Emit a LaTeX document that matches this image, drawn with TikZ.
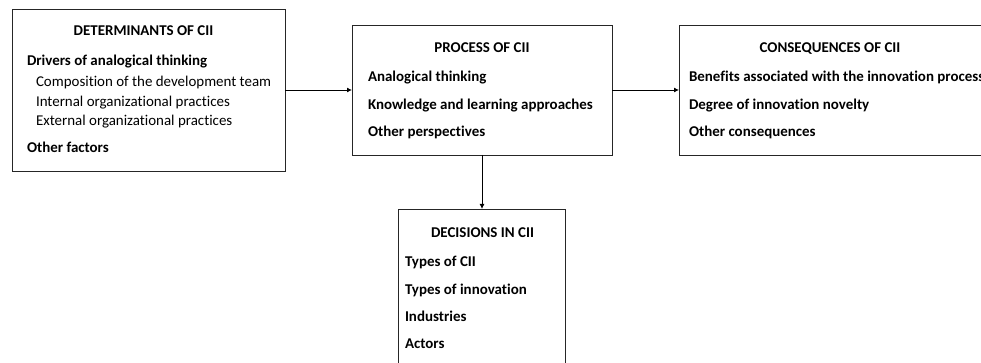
\documentclass[tikz,border=0pt]{standalone}
\usepackage{fontspec}
\setmainfont{Carlito}[Ligatures=CommonOff]
\usetikzlibrary{arrows.meta}
\begin{document}
\begin{tikzpicture}[x=1pt,y=-1pt,
  box/.style={draw=black!85, line width=0.9pt, rectangle, inner sep=0pt, outer sep=0pt},
  txt/.style={inner sep=0pt, outer sep=0pt, anchor=base west, font=\fontsize{14.95}{17}\selectfont\bfseries},
  sub/.style={inner sep=0pt, outer sep=0pt, anchor=base west, font=\fontsize{14.95}{17}\selectfont},
  ttl/.style={inner sep=0pt, outer sep=0pt, anchor=base, font=\fontsize{14.95}{17}\selectfont\bfseries},
  arr/.style={draw=black, line width=0.9pt, -{Latex[length=5pt,width=5pt]}}]
\useasboundingbox (0,0) rectangle (981,363);
\clip (0,0) rectangle (981,363);
% boxes
\node[box, minimum width=273pt, minimum height=162pt] (det) at (148.5,90) {};
\node[box, minimum width=260pt, minimum height=130pt] (proc) at (482,90) {};
\node[box, minimum width=306pt, minimum height=130pt] (cons) at (832,90) {};
\node[box, minimum width=167pt, minimum height=180pt] (dec) at (482,299) {};
% determinants
\node[ttl] (t1) at (143.5,36) {DETERMINANTS OF CII};
\node[txt] (d1) at (27,66) {Drivers of analogical thinking};
\node[sub] (d2) at (36,87) {Composition of the development team};
\node[sub] (d3) at (36,107) {Internal organizational practices};
\node[sub] (d4) at (36,126) {External organizational practices};
\node[txt] (d5) at (27,153) {Other factors};
% process
\node[ttl] (t2) at (482,53) {PROCESS OF CII};
\node[txt] (p1) at (368,82) {Analogical thinking};
\node[txt] (p2) at (368,110) {Knowledge and learning approaches};
\node[txt] (p3) at (368,137) {Other perspectives};
% consequences
\node[ttl] (t3) at (830,53) {CONSEQUENCES OF CII};
\node[txt] (c1) at (689,82) {Benefits associated with the innovation process};
\node[txt] (c2) at (689,110) {Degree of innovation novelty};
\node[txt] (c3) at (689,137) {Other consequences};
% decisions
\node[ttl] (t4) at (482.5,237) {DECISIONS IN CII};
\node[txt] (e1) at (405,266) {Types of CII};
\node[txt] (e2) at (405,294) {Types of innovation};
\node[txt] (e3) at (405,321) {Industries};
\node[txt] (e4) at (405,348) {Actors};
% connectors
\draw[arr] (det.east) -- (proc.west);
\draw[arr] (proc.east) -- (cons.west);
\draw[arr] (proc.south) -- (dec.north);
\end{tikzpicture}
\end{document}
